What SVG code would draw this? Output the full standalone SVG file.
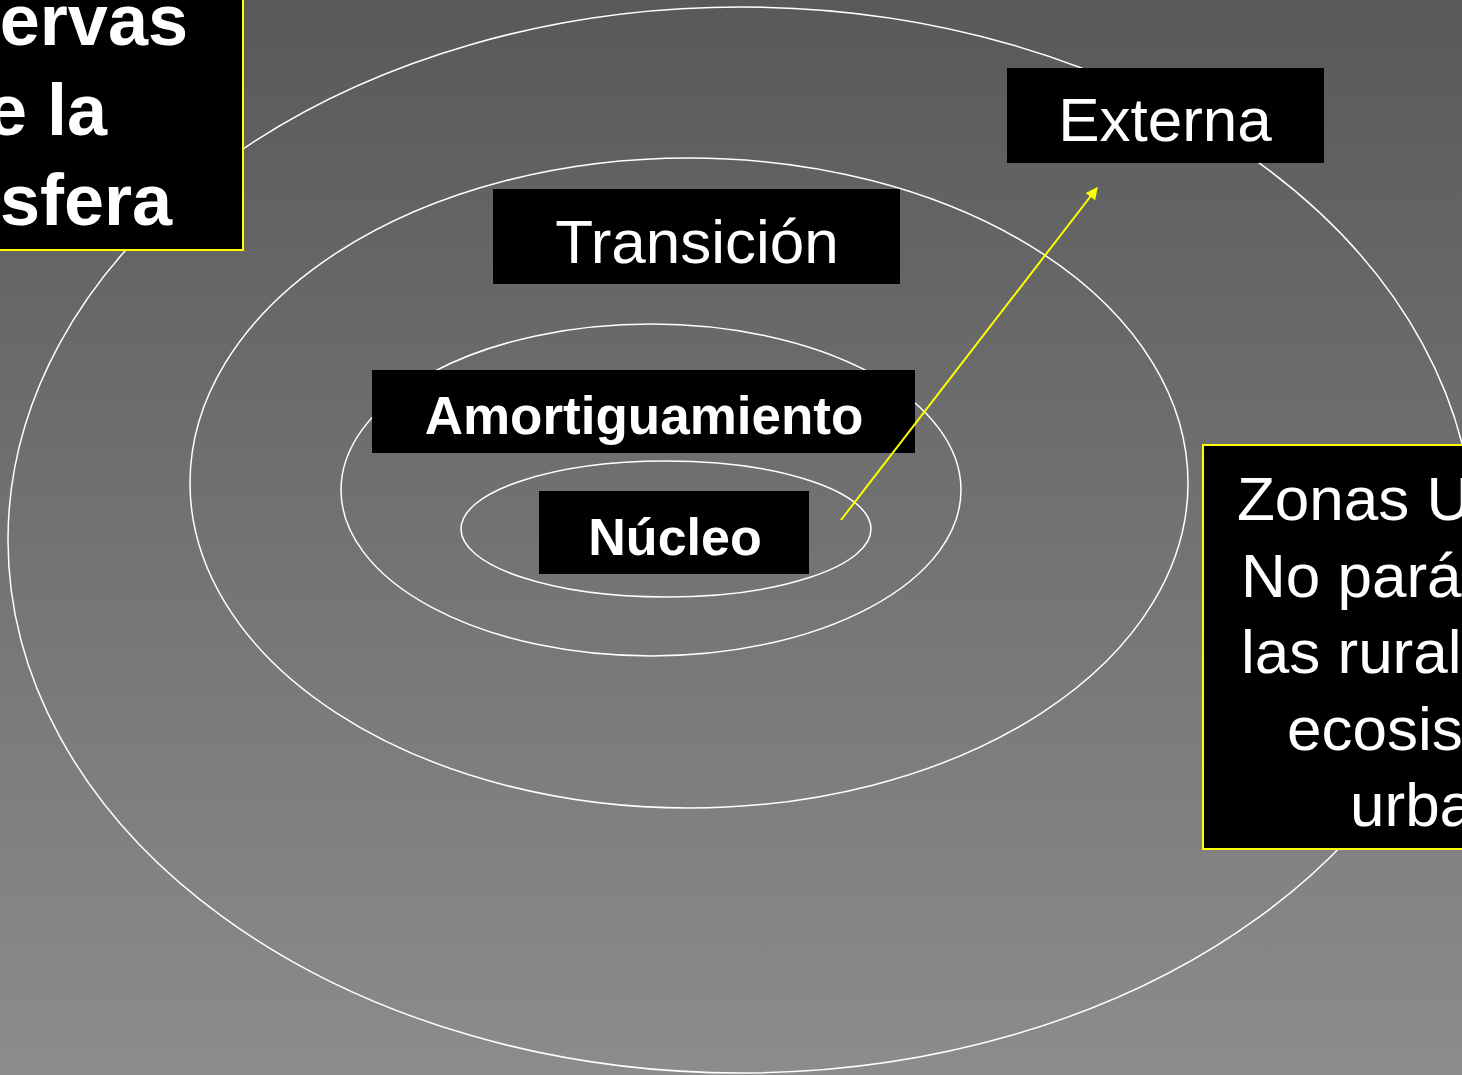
<svg xmlns="http://www.w3.org/2000/svg" width="1462" height="1075" viewBox="0 0 1462 1075">
<defs>
<linearGradient id="bg" x1="0" y1="0" x2="0" y2="1">
<stop offset="0" stop-color="#595959"/>
<stop offset="1" stop-color="#8c8c8c"/>
</linearGradient>
<marker id="ah" viewBox="0 0 10 10" refX="9" refY="5" markerWidth="14" markerHeight="12" orient="auto" markerUnits="userSpaceOnUse">
<path d="M0,0 L10,5 L0,10 z" fill="#ffff00"/>
</marker>
<style>
.ring{fill:none;stroke:#ffffff;stroke-width:1.5}
.box{fill:#000000}
.ybox{fill:#000000;stroke:#ffff00;stroke-width:2}
.t{fill:#ffffff;font-family:"Liberation Sans",Arial,sans-serif}
.b{font-weight:bold}
.conn{stroke:#ffff00;stroke-width:2;fill:none}
</style>
</defs>
<rect width="1462" height="1075" fill="url(#bg)"/>
<g id="rings">
<ellipse class="ring" cx="741" cy="540" rx="733" ry="533"/>
<ellipse class="ring" cx="689" cy="483" rx="499" ry="325"/>
<ellipse class="ring" cx="651" cy="490" rx="310" ry="166"/>
<ellipse class="ring" cx="666" cy="529" rx="205" ry="68"/>
</g>
<g id="title">
<rect class="ybox" x="-5" y="-5" width="248" height="255"/>
<text class="t b" font-size="72" text-anchor="end" x="188" y="45">ervas</text>
<text class="t b" font-size="72" text-anchor="end" x="107" y="135">e la</text>
<text class="t b" font-size="72" text-anchor="end" x="172" y="225">sfera</text>
</g>
<g id="externa">
<rect class="box" x="1007" y="68" width="317" height="95"/>
<text class="t" font-size="62" text-anchor="middle" x="1165" y="141">Externa</text>
</g>
<g id="transicion">
<rect class="box" x="493" y="189" width="407" height="95"/>
<text class="t" font-size="62" text-anchor="middle" x="697" y="263">Transición</text>
</g>
<g id="amortiguamiento">
<rect class="box" x="372" y="370" width="543" height="83"/>
<text class="t b" font-size="53" text-anchor="middle" x="644" y="434">Amortiguamiento</text>
</g>
<g id="nucleo">
<rect class="box" x="539" y="491" width="270" height="83"/>
<text class="t b" font-size="52" text-anchor="middle" x="675" y="555">Núcleo</text>
</g>
<g id="zonas">
<rect class="ybox" x="1203" y="445" width="270" height="404"/>
<text class="t" font-size="62" x="1237" y="520">Zonas U</text>
<text class="t" font-size="62" x="1241" y="597">No pará</text>
<text class="t" font-size="62" x="1241" y="673">las rural</text>
<text class="t" font-size="62" x="1287" y="750">ecosis</text>
<text class="t" font-size="62" x="1350" y="826">urba</text>
</g>
<g id="connectors">
<line class="conn" x1="841" y1="520" x2="1097" y2="188" marker-end="url(#ah)"/>
</g>
</svg>
